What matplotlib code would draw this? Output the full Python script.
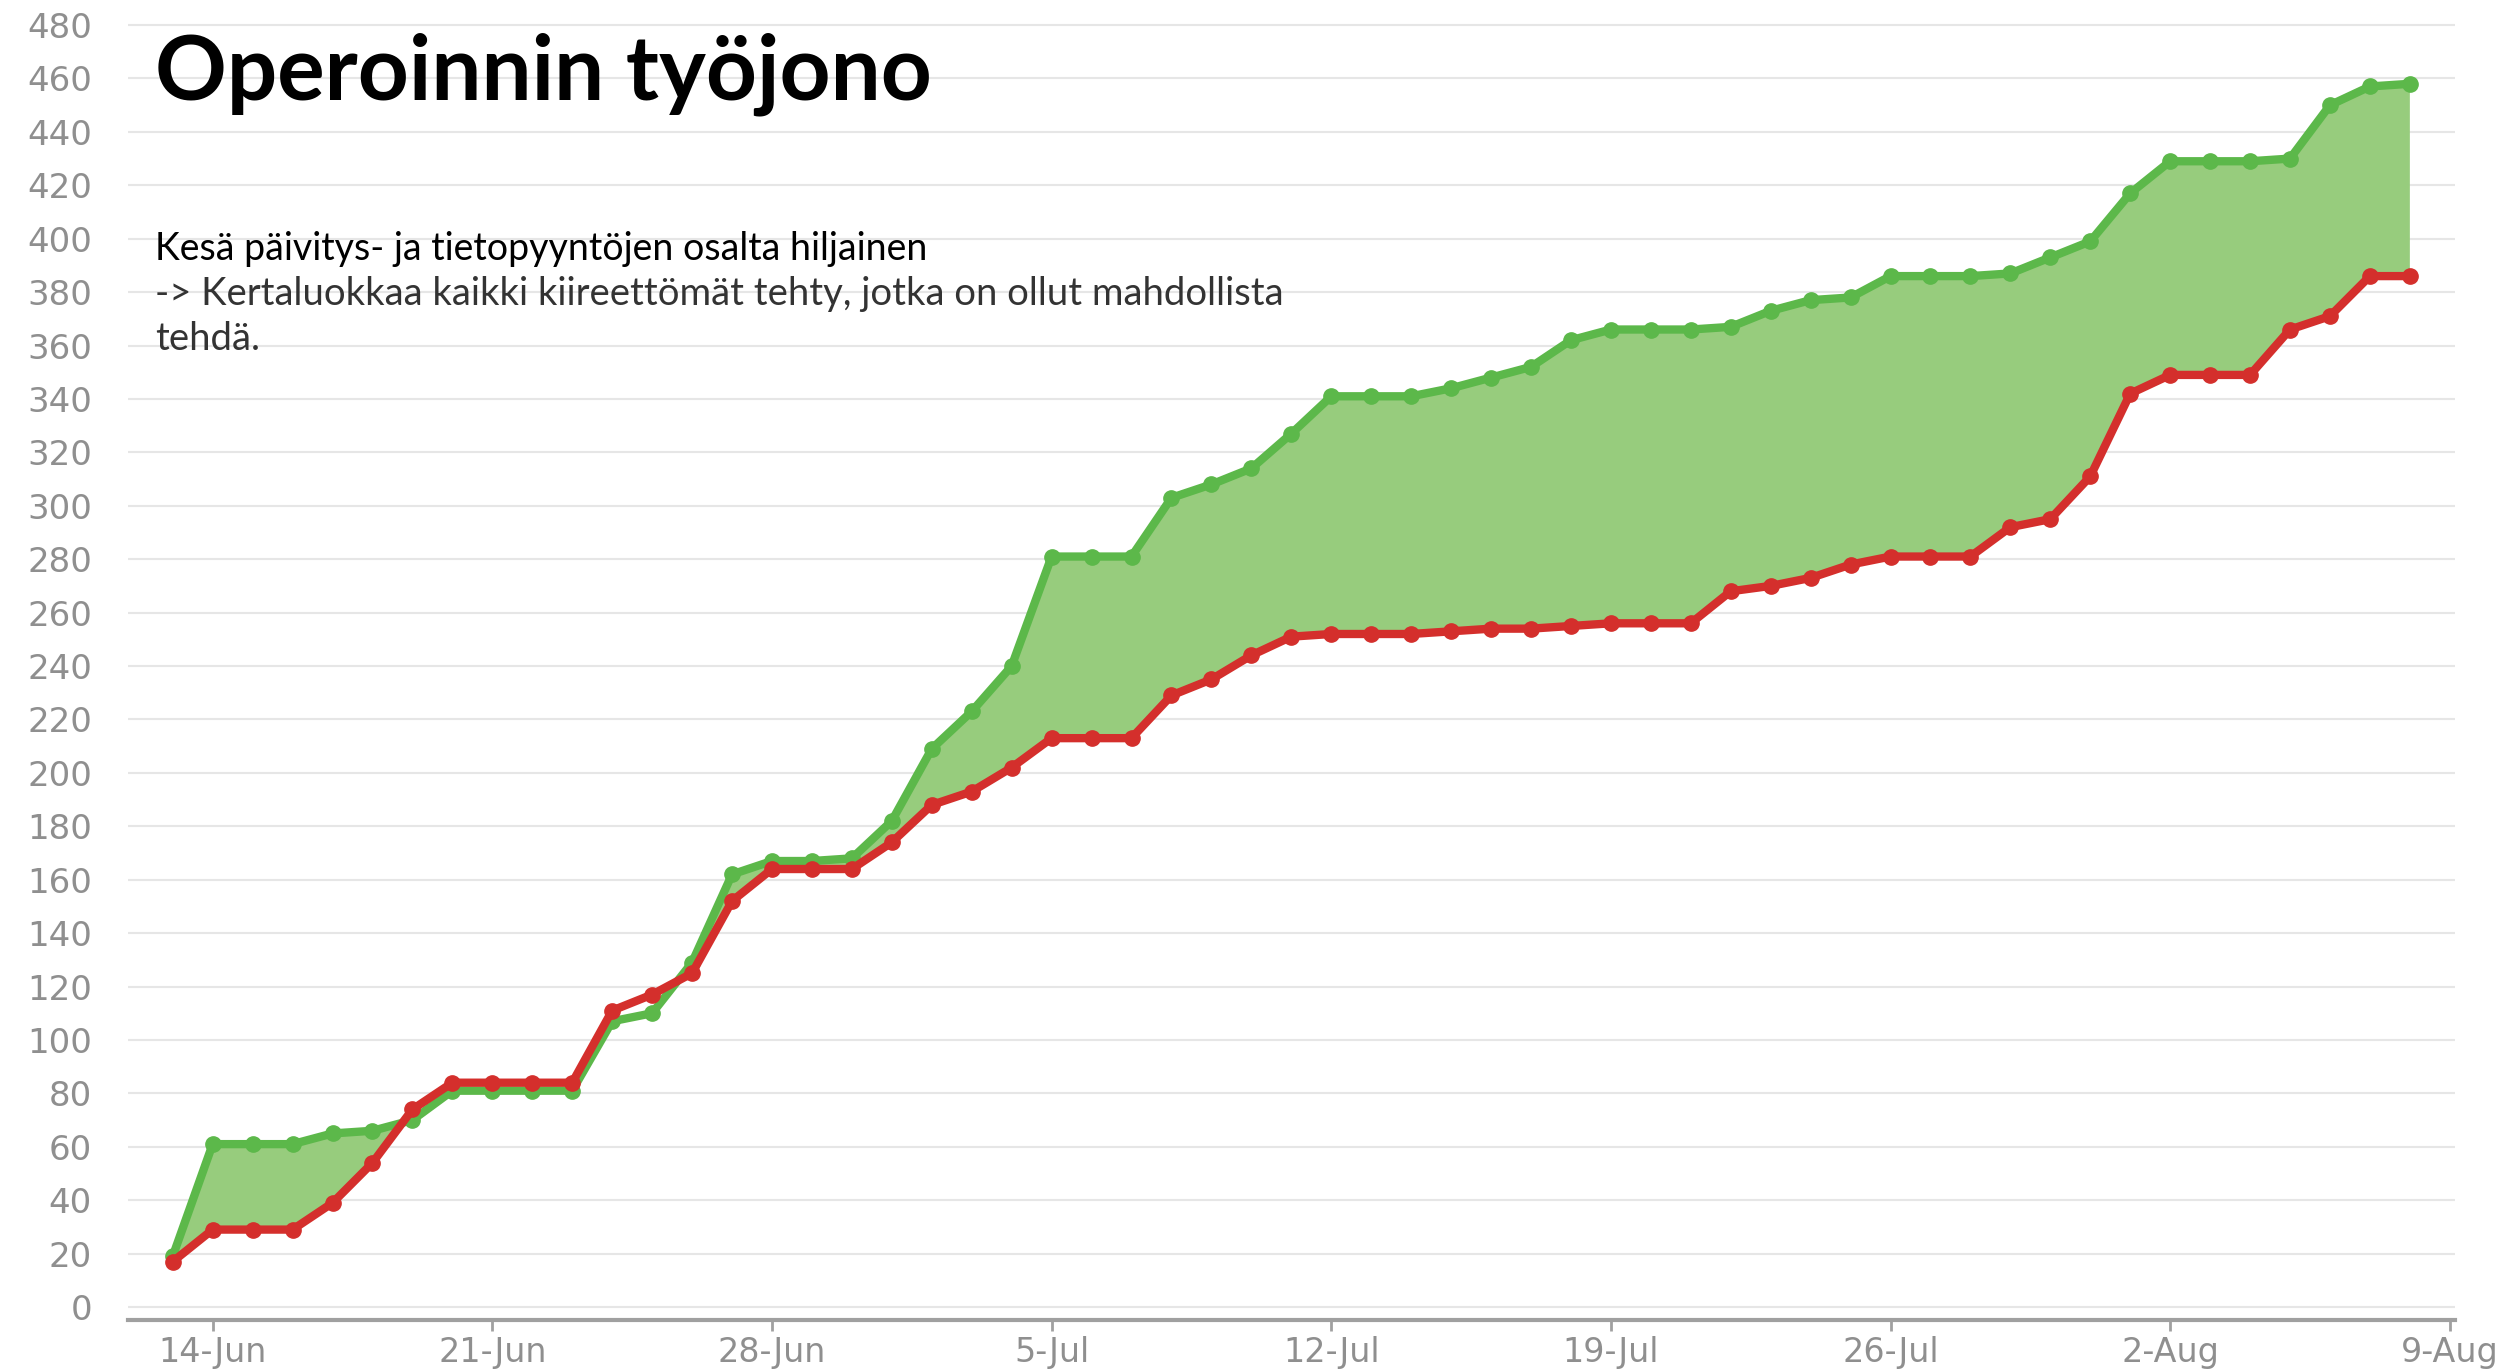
import matplotlib
matplotlib.use("Agg")
import matplotlib.pyplot as plt
import matplotlib.dates as mdates
import pandas as pd
import numpy as np

# daily cumulative counts, 13-Jun .. 8-Aug
dates = pd.date_range("2021-06-13", "2021-08-08", freq="D")
created = [19, 61, 61, 61, 65, 66, 70, 81, 81, 81, 81, 107, 110, 129, 162, 167, 167, 168,
           182, 209, 223, 240, 281, 281, 281, 303, 308, 314, 327, 341, 341, 341, 344, 348,
           352, 362, 366, 366, 366, 367, 373, 377, 378, 386, 386, 386, 387, 393, 399, 417,
           429, 429, 429, 430, 450, 457, 458]
resolved = [17, 29, 29, 29, 39, 54, 74, 84, 84, 84, 84, 111, 117, 125, 152, 164, 164, 164,
            174, 188, 193, 202, 213, 213, 213, 229, 235, 244, 251, 252, 252, 252, 253, 254,
            254, 255, 256, 256, 256, 268, 270, 273, 278, 281, 281, 281, 292, 295, 311, 342,
            349, 349, 349, 366, 371, 386, 386]
tick_dates = pd.date_range("2021-06-14", "2021-08-09", freq="7D")

title = "Operoinnin työjono"
line1 = "Kesä päivitys- ja tietopyyntöjen osalta hiljainen"
line2 = "-> Kertaluokkaa kaikki kiireettömät tehty, jotka on ollut mahdollista"
line3 = "tehdä."

green = "#5cb84a"
red = "#d42f2c"
fill = "#97cc7d"
W, H = 2506, 1370

fig = plt.figure(figsize=(W / 100, H / 100), dpi=100)
ax = fig.add_axes([128 / W, (H - 1320.4) / H, (2455 - 128) / W, (1320.4 - 19.7) / H])

c = np.array(created)
r = np.array(resolved)
ax.fill_between(dates, c, r, where=c >= r, interpolate=True, color=fill, lw=0, zorder=2)
ax.plot(dates, created, color=green, lw=6, marker="o", ms=11, zorder=3)
ax.plot(dates, resolved, color=red, lw=6, marker="o", ms=11, zorder=4)

ax.set_ylim(-5, 482)
ax.set_yticks(range(0, 481, 20))
ax.set_xlim(dates[0] - pd.Timedelta(days=1.12), dates[0] + pd.Timedelta(days=57.13))
ax.set_xticks(tick_dates)
ax.xaxis.set_major_formatter(mdates.DateFormatter("%-d-%b"))

ax.grid(axis="y", color="#e6e6e6", lw=1.5, zorder=0)
for s in ["top", "right", "left"]:
    ax.spines[s].set_visible(False)
ax.spines["bottom"].set_color("#a0a0a0")
ax.spines["bottom"].set_linewidth(3)
ax.tick_params(axis="y", length=0, pad=26, labelsize=24.5, labelcolor="#8f8f8f")
ax.tick_params(axis="x", length=8, width=2, color="#a0a0a0", pad=3, labelsize=24,
               labelcolor="#8f8f8f")

fig.text(155 / W, 1 - 99 / H, title, fontsize=64, fontweight="bold", family="Lato",
         va="baseline", ha="left")
fig.text(155 / W, 1 - 260 / H, line1, fontsize=27, family="Lato", va="baseline", ha="left")
fig.text(155 / W, 1 - 305 / H, line2, fontsize=27.5, family="Lato",
         color="#333333", va="baseline", ha="left")
fig.text(155 / W, 1 - 350 / H, line3, fontsize=27.5, family="Lato",
         color="#333333", va="baseline", ha="left")

fig.savefig("out.png", dpi=100)
